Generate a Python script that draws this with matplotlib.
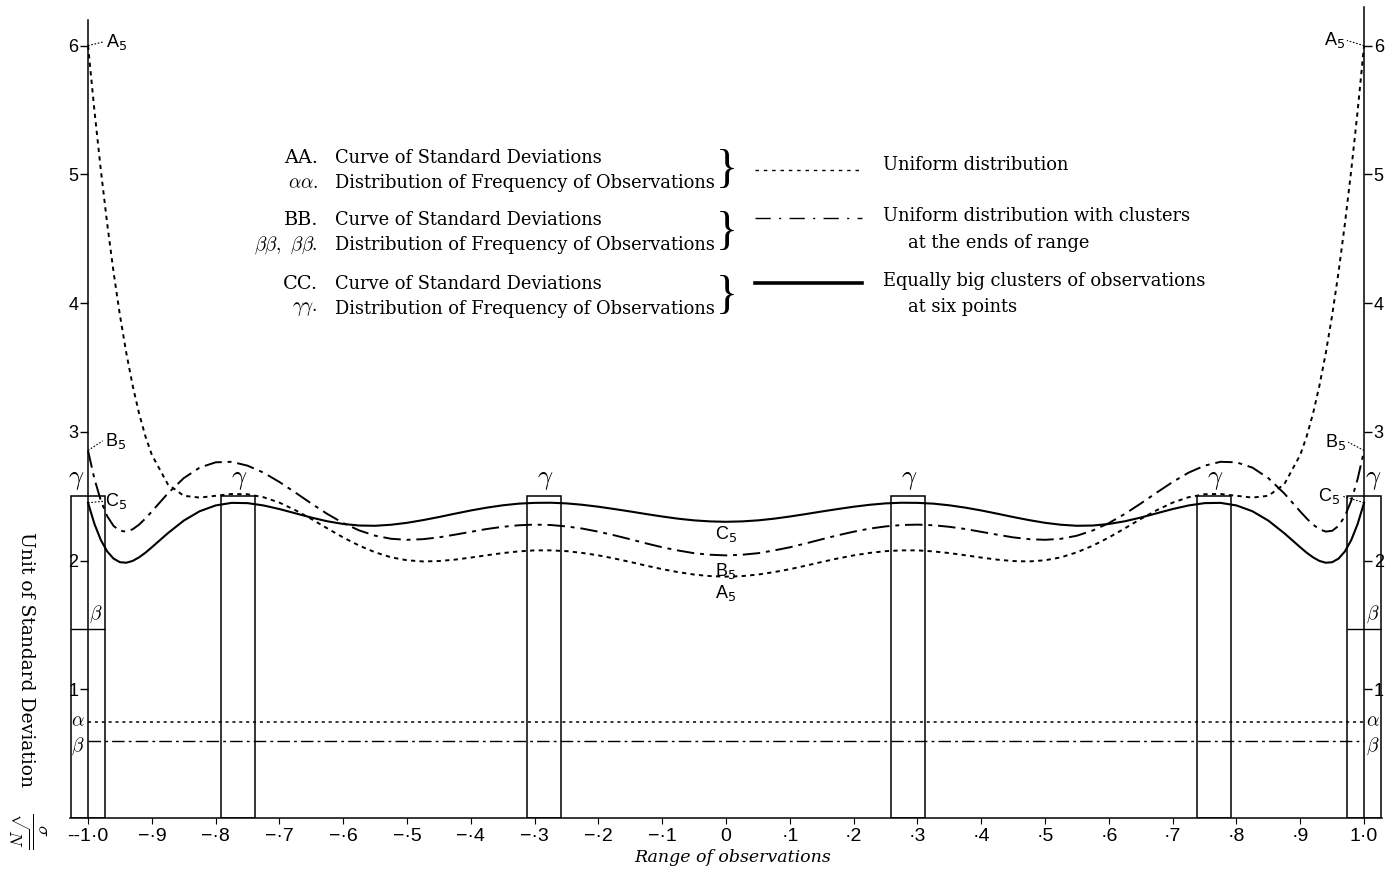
import numpy as np
import matplotlib
matplotlib.use("Agg")
import matplotlib.pyplot as plt
from matplotlib.lines import Line2D

# --- data --------------------------------------------------------------------
x_range = [-1.0, -0.99, -0.98, -0.97, -0.96, -0.95, -0.94, -0.93, -0.92, -0.91,
           -0.9, -0.875, -0.85, -0.825, -0.8, -0.775, -0.75, -0.725, -0.7, -0.675,
           -0.65, -0.625, -0.6, -0.575, -0.55, -0.525, -0.5, -0.475, -0.45, -0.425,
           -0.4, -0.375, -0.35, -0.325, -0.3, -0.275, -0.25, -0.225, -0.2, -0.175,
           -0.15, -0.125, -0.1, -0.075, -0.05, -0.025,
           0.0, 0.025, 0.05, 0.075, 0.1, 0.125, 0.15, 0.175, 0.2, 0.225,
           0.25, 0.275, 0.3, 0.325, 0.35, 0.375, 0.4, 0.425, 0.45, 0.475,
           0.5, 0.525, 0.55, 0.575, 0.6, 0.625, 0.65, 0.675, 0.7, 0.725,
           0.75, 0.775, 0.8, 0.825, 0.85, 0.875, 0.9, 0.91, 0.92, 0.93,
           0.94, 0.95, 0.96, 0.97, 0.98, 0.99, 1.0]

# AA: uniform distribution
curve_a = [6.000, 5.497, 5.036, 4.618, 4.241, 3.906, 3.612, 3.358, 3.142, 2.964,
           2.821, 2.593, 2.503, 2.489, 2.503, 2.517, 2.515, 2.492, 2.450, 2.391,
           2.323, 2.250, 2.179, 2.116, 2.064, 2.025, 2.002, 1.993, 1.996, 2.007,
           2.023, 2.041, 2.058, 2.071, 2.079, 2.079, 2.073, 2.059, 2.040, 2.016,
           1.989, 1.960, 1.933, 1.910, 1.891, 1.879,
           1.875, 1.879, 1.891, 1.910, 1.933, 1.960, 1.989, 2.016, 2.040, 2.059,
           2.073, 2.079, 2.079, 2.071, 2.058, 2.041, 2.023, 2.007, 1.996, 1.993,
           2.002, 2.025, 2.064, 2.116, 2.179, 2.250, 2.323, 2.391, 2.450, 2.492,
           2.515, 2.517, 2.503, 2.489, 2.503, 2.593, 2.821, 2.964, 3.142, 3.358,
           3.612, 3.906, 4.241, 4.618, 5.036, 5.497, 6.000]

# BB: uniform distribution with clusters at the ends
curve_b = [2.854, 2.635, 2.466, 2.345, 2.269, 2.231, 2.225, 2.243, 2.279, 2.327,
           2.381, 2.521, 2.640, 2.722, 2.763, 2.767, 2.737, 2.683, 2.610, 2.528,
           2.443, 2.362, 2.291, 2.234, 2.193, 2.169, 2.161, 2.166, 2.180, 2.201,
           2.223, 2.245, 2.262, 2.274, 2.279, 2.276, 2.265, 2.248, 2.224, 2.196,
           2.165, 2.133, 2.103, 2.078, 2.057, 2.045,
           2.040, 2.045, 2.057, 2.078, 2.103, 2.133, 2.165, 2.196, 2.224, 2.248,
           2.265, 2.276, 2.279, 2.274, 2.262, 2.245, 2.223, 2.201, 2.180, 2.166,
           2.161, 2.169, 2.193, 2.234, 2.291, 2.362, 2.443, 2.528, 2.610, 2.683,
           2.737, 2.767, 2.763, 2.722, 2.640, 2.521, 2.381, 2.327, 2.279, 2.243,
           2.225, 2.231, 2.269, 2.345, 2.466, 2.635, 2.854]

# CC: equally big clusters at six points
curve_c = [2.449, 2.285, 2.160, 2.071, 2.015, 1.987, 1.983, 1.997, 2.025, 2.061,
           2.103, 2.212, 2.310, 2.383, 2.428, 2.448, 2.446, 2.428, 2.400, 2.367,
           2.334, 2.305, 2.284, 2.272, 2.270, 2.278, 2.293, 2.314, 2.338, 2.364,
           2.389, 2.411, 2.429, 2.442, 2.448, 2.449, 2.444, 2.433, 2.418, 2.400,
           2.381, 2.361, 2.342, 2.325, 2.312, 2.304,
           2.301, 2.304, 2.312, 2.325, 2.342, 2.361, 2.381, 2.400, 2.418, 2.433,
           2.444, 2.449, 2.448, 2.442, 2.429, 2.411, 2.389, 2.364, 2.338, 2.314,
           2.293, 2.278, 2.270, 2.272, 2.284, 2.305, 2.334, 2.367, 2.400, 2.428,
           2.446, 2.448, 2.428, 2.383, 2.310, 2.212, 2.103, 2.061, 2.025, 1.997,
           1.983, 1.987, 2.015, 2.071, 2.160, 2.285, 2.449]

cluster_x = [-1.0, -0.765, -0.285, 0.285, 0.765, 1.0]
gamma_height = 2.5
alpha_level = 0.745
beta_level = 0.60
beta_end_level = 1.47

x_ticks = [-1.0, -0.9, -0.8, -0.7, -0.6, -0.5, -0.4, -0.3, -0.2, -0.1, 0.0,
           0.1, 0.2, 0.3, 0.4, 0.5, 0.6, 0.7, 0.8, 0.9, 1.0]
x_tick_labels = ["--1·0", "−·9", "−·8", "−·7", "−·6", "−·5", "−·4", "−·3", "−·2",
                 "−·1", "0", "·1", "·2", "·3", "·4", "·5", "·6", "·7", "·8", "·9",
                 "1·0"]
y_ticks = [1, 2, 3, 4, 5, 6]

W, H = 1387, 875
SANS = ["Liberation Sans", "DejaVu Sans"]
SERIF = ["DejaVu Serif"]
FS = 12.9


def fxy(px, py):
    """pixel position -> figure fraction"""
    return px / W, 1 - py / H


def greek(ax_, x, y, s, size=14, **kw):
    ax_.text(x, y, s, fontsize=size, math_fontfamily="cm", ha="center",
             va="center", **kw)


fig = plt.figure(figsize=(W / 100, H / 100), dpi=100)
ax = fig.add_axes([65.7 / W, 57 / H, 1320.7 / W, 811 / H])
ax.set_xlim(-1.035, 1.035)
ax.set_ylim(0, 6.3)

# axes frame: vertical axes at -1 and 1, base line under the boxes
ax.spines["top"].set_visible(False)
ax.spines["left"].set_position(("data", -1.0))
ax.spines["right"].set_position(("data", 1.0))
ax.spines["left"].set_bounds(0, 6.2)
ax.spines["right"].set_bounds(0, 6.3)
ax.spines["bottom"].set_bounds(-1.028, 1.028)
for s in ("left", "right", "bottom"):
    ax.spines[s].set_linewidth(1.1)

ax.set_yticks(y_ticks)
ax.set_yticklabels([str(v) for v in y_ticks], family=SANS, fontsize=13)
ax.tick_params(axis="y", direction="out", length=6, width=1, pad=1,
               right=True, labelright=True)
ax.set_xticks(x_ticks)
ax.set_xticklabels(x_tick_labels, family=SANS, fontsize=14)
ax.tick_params(axis="x", direction="out", length=4, width=0.8, pad=3)

# frequency distributions
ax.bar(cluster_x, gamma_height, width=0.053, fill=False, edgecolor="black",
       linewidth=1.1, zorder=3)
ax.plot([-1, 1], [alpha_level, alpha_level], color="black", lw=1.1,
        ls=(0, (2, 2.5)))
ax.plot([-1, 1], [beta_level, beta_level], color="black", lw=1.0,
        ls=(0, (9, 3, 2, 3)))
ax.hlines([beta_end_level, beta_end_level], [-1.0265, 0.9735],
          [-0.9735, 1.0265], color="black", lw=1.0)

# standard deviation curves
ax.plot(x_range, curve_a, color="black", lw=1.4, ls=(0, (2.2, 2.2)))
ax.plot(x_range, curve_b, color="black", lw=1.4, ls=(0, (9, 3, 2, 3)))
ax.plot(x_range, curve_c, color="black", lw=1.5)

# gamma / alpha / beta marks
for cx in cluster_x:
    gx = cx + (-0.018 if cx == -1.0 else 0.015 if cx == 1.0 else 0.002)
    greek(ax, gx, gamma_height + 0.13, r"$\gamma$", size=19)
for sx in (-1.016, 1.014):
    greek(ax, sx, alpha_level + 0.01, r"$\alpha$")
    greek(ax, sx, beta_level - 0.04, r"$\beta$")
greek(ax, -0.988, beta_end_level + 0.11, r"$\beta$")
greek(ax, 1.014, beta_end_level + 0.11, r"$\beta$")

# curve end labels with dotted leaders
lead = dict(color="black", lw=0.8, ls=(0, (1.5, 1.5)))
ends = [(-1, 6.0, -0.975, 6.03, "left"), (1, 6.0, 0.973, 6.04, "right"),
        (-1, 2.855, -0.977, 2.93, "left"), (1, 2.855, 0.975, 2.92, "right"),
        (-1, 2.449, -0.976, 2.46, "left"), (1, 2.449, 0.966, 2.50, "right")]
for (x0, y0, x1, y1, ha), name in zip(ends, ["A", "A", "B", "B", "C", "C"]):
    ax.plot([x0, x1], [y0, y1], **lead)
    ax.text(x1 + (0.003 if ha == "left" else -0.003), y1, name + "$_5$",
            family=SANS, fontsize=13, ha=ha, va="center")
for name, yy in [("C", 2.21), ("B", 1.92), ("A", 1.75)]:
    ax.text(0.0, yy, name + "$_5$", family=SANS, fontsize=13, ha="center",
            va="center")

# axis titles
fig.text(*fxy(733, 858), "Range of observations", family=SERIF, style="italic",
         fontsize=12.5, ha="center", va="center")
fig.text(*fxy(26, 660), "Unit of Standard Deviation", family=SERIF,
         fontsize=13.5, rotation=-90, ha="center", va="center")
fig.text(*fxy(27, 830), r"$\frac{\sigma}{\sqrt{N}}$", fontsize=19,
         rotation=-90, ha="center", va="center", math_fontfamily="cm")

# key block
rows = [("AA.", "Curve of Standard Deviations", 158),
        (r"$\alpha\alpha.$", "Distribution of Frequency of Observations", 183),
        ("BB.", "Curve of Standard Deviations", 220),
        (r"$\beta\beta,\ \beta\beta.$", "Distribution of Frequency of Observations", 245),
        ("CC.", "Curve of Standard Deviations", 284),
        (r"$\gamma\gamma.$", "Distribution of Frequency of Observations", 309)]
for tag, desc, py in rows:
    fig.text(*fxy(318, py), tag, family=SERIF, fontsize=FS + 1, ha="right",
             va="center", math_fontfamily="cm")
    fig.text(*fxy(335, py), desc, family=SERIF, fontsize=FS, ha="left",
             va="center")
for py in (171, 233, 297):
    fig.text(*fxy(716, py), "}", family=["Liberation Serif"], fontsize=33,
             ha="left", va="center")

samples = [((0, (2.5, 3.5)), 1.0, 170), ((0, (11, 6, 1.5, 6)), 1.0, 218),
           ("-", 2.6, 283)]
for ls, lw, py in samples:
    (x0, y0), (x1, _) = fxy(755, py), fxy(862, py)
    fig.add_artist(Line2D([x0, x1], [y0, y0], transform=fig.transFigure,
                          color="black", lw=lw, ls=ls))
notes = [("Uniform distribution", 883, 165),
         ("Uniform distribution with clusters", 883, 216),
         ("at the ends of range", 908, 243),
         ("Equally big clusters of observations", 883, 281),
         ("at six points", 908, 307)]
for txt, px, py in notes:
    fig.text(*fxy(px, py), txt, family=SERIF, fontsize=FS, ha="left",
             va="center")

fig.savefig("out.png", dpi=100)
